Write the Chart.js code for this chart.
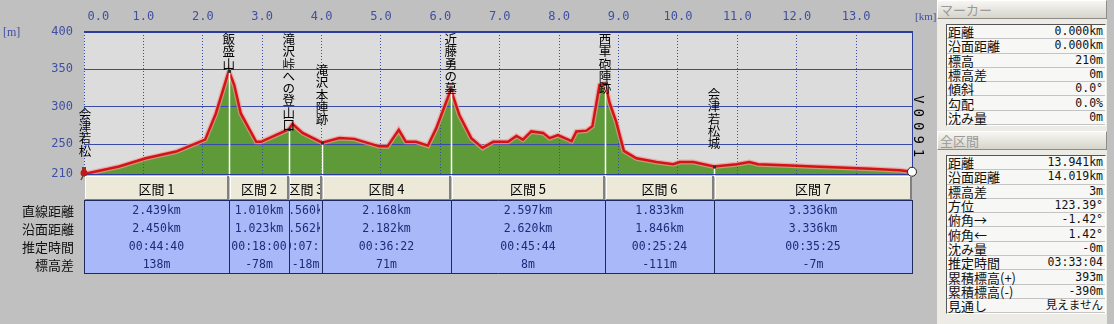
<!DOCTYPE html>
<html>
<head>
<meta charset="utf-8">
<script src="https://cdn.jsdelivr.net/npm/chart.js@4"></script>
<style>
body { margin: 0; background: #c0c0c0; width: 1114px; height: 324px; overflow: hidden; position: relative; font-family: "Noto Sans CJK JP", sans-serif; }
#plotBg { position: absolute; background: #dcdcdc; }
#profile { position: absolute; left: 0; top: 0; }
#panel { position: absolute; left: 937px; top: 0; width: 170px; height: 324px; background: #ecebe6; }
.hdr { position: absolute; left: 0; width: 166px; height: 17px; background: linear-gradient(#f7f6f2, #d6d4cb); border: 1px solid; border-color: #fff #8e8c84 #8e8c84 #fff; color: #9a9a9a; font-size: 13px; line-height: 17px; padding-left: 2px; }
.box { position: absolute; left: 9px; width: 158px; border: 1px solid; border-color: #555 #fff #fff #555; background: #f7f7f5; }
.row { height: 13.3px; border-bottom: 1px solid #c4c4c4; display: flex; justify-content: space-between; align-items: center; font-size: 13px; line-height: 13px; padding: 0 2px 0 1px; color: #111; }
.val { font-family: "DejaVu Sans Mono", "Noto Sans CJK JP", monospace; font-size: 11.5px; }
</style>
</head>
<body>
<div id="plotBg"></div>
<canvas id="profile" width="937" height="324"></canvas>
<div id="panel"></div>
<script>
// profile: distance along route (km) and elevation (m)
const distKm = [0, 0.59, 1.04, 1.55, 2.04, 2.22, 2.439, 2.53, 2.64, 2.90,
    2.98, 3.23, 3.449, 3.51, 3.68, 4.009, 4.30, 4.55, 4.97, 5.11,
    5.30, 5.42, 5.59, 5.79, 5.93, 6.177, 6.32, 6.52, 6.71, 6.89,
    7.14, 7.28, 7.39, 7.53, 7.73, 7.84, 7.98, 8.21, 8.29, 8.46,
    8.56, 8.68, 8.774, 8.85, 8.96, 9.09, 9.30, 9.64, 9.92, 10.03,
    10.26, 10.607, 10.99, 11.20, 11.35, 12.00, 12.28, 12.62, 13.24, 13.74,
    13.941];
const elevM = [210, 220, 231, 240, 256, 291, 348, 329, 291, 253,
    253, 262, 270, 277, 265, 252, 258, 257, 247, 247,
    269, 253, 253, 248, 271, 323, 289, 258, 245, 253,
    253, 261, 256, 267, 265, 258, 262, 254, 267, 268,
    274, 329, 331, 305, 280, 241, 231, 226, 223, 226,
    226, 220, 223, 226, 223, 221, 220, 219, 217, 215,
    213];

const markerNames = ['会津若松', '飯盛山', '滝沢峠への登山口', '滝沢本陣跡', '近藤勇の墓', '西軍砲陣跡', '会津若松城', 'V0091'];
const markerKm = [0, 2.439, 3.449, 4.009, 6.177, 8.774, 10.607, 13.941];
const markerElev = [210, 348, 270, 252, 323, 331, 220, 213];

const sectionKm = [0, 2.439, 3.449, 4.009, 6.177, 8.774, 10.607, 13.941];
const sectionNames = ['区間 1', '区間 2', '区間 3', '区間 4', '区間 5', '区間 6', '区間 7'];
const rowLabels = ['直線距離', '沿面距離', '推定時間', '標高差'];
const straightDist = ['2.439km', '1.010km', '0.560km', '2.168km', '2.597km', '1.833km', '3.336km'];
const surfaceDist = ['2.450km', '1.023km', '0.562km', '2.182km', '2.620km', '1.846km', '3.336km'];
const estTime = ['00:44:40', '00:18:00', '00:07:29', '00:36:22', '00:45:44', '00:25:24', '00:35:25'];
const elevDiff = ['138m', '-78m', '-18m', '71m', '8m', '-111m', '-7m'];

const xTicks = [0, 1, 2, 3, 4, 5, 6, 7, 8, 9, 10, 11, 12, 13];
const yTicks = [210, 250, 300, 350, 400];

const markerInfoLabels = ['距離', '沿面距離', '標高', '標高差', '傾斜', '勾配', '沈み量'];
const markerInfoValues = ['0.000km', '0.000km', '210m', '0m', '0.0°', '0.0%', '0m'];
const totalLabels = ['距離', '沿面距離', '標高差', '方位', '俯角→', '俯角←', '沈み量', '推定時間', '累積標高(+)', '累積標高(-)', '見通し'];
const totalValues = ['13.941km', '14.019km', '3m', '123.39°', '-1.42°', '1.42°', '-0m', '03:33:04', '393m', '-390m', '見えません'];

const axisBlue = '#3f4fa3';
const gridBlue = '#3a4aa8';
const jpFont = '"Noto Sans CJK JP", sans-serif';
const monoFont = '"DejaVu Sans Mono", "Noto Sans CJK JP", monospace';

const points = distKm.map((d, i) => ({ x: d, y: elevM[i] }));

const profileDecor = {
    id: 'profileDecor',
    afterLayout(chart) {
        const a = chart.chartArea;
        const bg = document.getElementById('plotBg');
        bg.style.left = a.left + 'px';
        bg.style.top = a.top + 'px';
        bg.style.width = (a.right - a.left) + 'px';
        bg.style.height = (a.bottom - a.top) + 'px';
    },
    afterDatasetsDraw(chart) {
        const { ctx, chartArea: a, scales: { x, y } } = chart;
        ctx.save();

        // white drop lines at the markers
        ctx.strokeStyle = '#ffffff';
        ctx.lineWidth = 1.5;
        markerKm.forEach((km, i) => {
            if (i === 0 || i === markerKm.length - 1) return;
            const px = Math.round(x.getPixelForValue(km)) + 0.5;
            const py = y.getPixelForValue(markerElev[i]);
            ctx.beginPath();
            ctx.moveTo(px, py + 2);
            ctx.lineTo(px, a.bottom + 3);
            ctx.stroke();
            ctx.fillStyle = '#303030';
            ctx.fillRect(px - 1.5, py - 1, 3, 3);
        });

        // vertical labels
        const cell = 12.3;
        ctx.fillStyle = '#000000';
        ctx.textAlign = 'center';
        ctx.textBaseline = 'middle';
        markerNames.forEach((name, i) => {
            const chars = Array.from(name);
            const px = x.getPixelForValue(markerKm[i]);
            const py = y.getPixelForValue(markerElev[i]);
            const top = Math.max(a.top + 1, py - 17 - chars.length * cell);
            const latin = /^[A-Za-z0-9]+$/.test(name);
            const cx = i === markerNames.length - 1 ? px + 6 : (i === 0 ? px + 1 : px);
            chars.forEach((ch, k) => {
                const cy = top + k * (latin ? 13.4 : cell) + cell / 2;
                if (latin) {
                    ctx.save();
                    ctx.translate(cx, cy);
                    ctx.rotate(Math.PI / 2);
                    ctx.font = '14px ' + monoFont;
                    ctx.fillText(ch, 0, 0);
                    ctx.restore();
                } else {
                    ctx.font = '12.5px ' + jpFont;
                    ctx.fillText(ch, cx, cy);
                }
            });
        });

        // plot frame
        ctx.strokeStyle = '#2c3c9c';
        ctx.lineWidth = 1;
        ctx.beginPath();
        ctx.moveTo(a.right + 0.5, a.top);
        ctx.lineTo(a.right + 0.5, a.bottom);
        ctx.moveTo(a.left, a.bottom + 0.5);
        ctx.lineTo(a.right, a.bottom + 0.5);
        ctx.stroke();
        ctx.lineWidth = 2;
        ctx.beginPath();
        ctx.moveTo(a.left, a.top);
        ctx.lineTo(a.right + 1, a.top);
        ctx.stroke();

        // start hiker and end point
        const sx = x.getPixelForValue(distKm[0]);
        const sy = y.getPixelForValue(elevM[0]);
        ctx.fillStyle = '#8a3a2a';
        ctx.fillRect(sx - 2, sy - 7, 4, 4);
        ctx.fillStyle = '#c01818';
        ctx.beginPath();
        ctx.arc(sx, sy - 1, 3.5, 0, Math.PI * 2);
        ctx.fill();
        ctx.strokeStyle = '#5a4a30';
        ctx.lineWidth = 1.5;
        ctx.beginPath();
        ctx.moveTo(sx - 1, sy + 2);
        ctx.lineTo(sx - 3, sy + 6);
        ctx.moveTo(sx + 1, sy + 2);
        ctx.lineTo(sx + 3, sy + 6);
        ctx.stroke();

        const ex = x.getPixelForValue(distKm[distKm.length - 1]);
        const ey = y.getPixelForValue(elevM[elevM.length - 1]);
        ctx.fillStyle = '#ffffff';
        ctx.strokeStyle = '#202020';
        ctx.lineWidth = 1;
        ctx.beginPath();
        ctx.arc(ex, ey, 4.5, 0, Math.PI * 2);
        ctx.fill();
        ctx.stroke();

        ctx.restore();
    },
    afterDraw(chart) {
        const { ctx, chartArea: a, scales: { x } } = chart;
        ctx.save();

        // unit labels
        ctx.fillStyle = axisBlue;
        ctx.font = '12px "Liberation Serif", serif';
        ctx.textBaseline = 'middle';
        ctx.textAlign = 'left';
        ctx.fillText('[m]', 3, 33);
        ctx.font = '11px "Liberation Serif", serif';
        ctx.fillText('[km]', a.right + 3, 17);

        // section table
        const hTop = a.bottom + 2;
        const hH = 24;
        const dTop = hTop + hH;
        const dH = 73;

        ctx.fillStyle = '#a9b8f8';
        ctx.fillRect(a.left, dTop, a.right - a.left, dH);

        const rows = [straightDist, surfaceDist, estTime, elevDiff];
        for (let i = 0; i < sectionNames.length; i++) {
            const x0 = Math.round(x.getPixelForValue(sectionKm[i]));
            const x1 = Math.round(x.getPixelForValue(sectionKm[i + 1]));

            // header cell
            ctx.fillStyle = '#ece9d8';
            ctx.fillRect(x0 + 1, hTop, x1 - x0 - 1, hH);
            ctx.fillStyle = '#ffffff';
            ctx.fillRect(x0 + 1, hTop, x1 - x0 - 2, 1);
            ctx.fillRect(x0 + 1, hTop, 1, hH);
            ctx.fillStyle = '#808080';
            ctx.fillRect(x1 - 2, hTop, 2, hH);
            ctx.fillRect(x0 + 1, hTop + hH - 1, x1 - x0 - 1, 1);

            ctx.save();
            ctx.beginPath();
            ctx.rect(x0 + 1, hTop, x1 - x0 - 3, hH + dH);
            ctx.clip();
            const cx = (x0 + x1) / 2;
            ctx.textAlign = 'center';
            ctx.textBaseline = 'middle';
            ctx.fillStyle = '#000000';
            ctx.font = '13px ' + jpFont;
            ctx.fillText(sectionNames[i], cx, hTop + hH / 2 + 1);
            ctx.fillStyle = '#1e2a78';
            ctx.font = '11.5px ' + monoFont;
            rows.forEach((vals, r) => {
                ctx.fillText(vals[i], cx, dTop + 11 + r * 17.9);
            });
            ctx.restore();
        }

        ctx.strokeStyle = '#1f2a5c';
        ctx.lineWidth = 1;
        ctx.beginPath();
        sectionKm.forEach(km => {
            const px = Math.round(x.getPixelForValue(km)) + 0.5;
            ctx.moveTo(px, dTop);
            ctx.lineTo(px, dTop + dH);
        });
        ctx.moveTo(a.left, dTop + 0.5);
        ctx.lineTo(a.right + 1, dTop + 0.5);
        ctx.moveTo(a.left, dTop + dH + 0.5);
        ctx.lineTo(a.right + 1, dTop + dH + 0.5);
        ctx.stroke();

        // row labels
        ctx.fillStyle = '#111111';
        ctx.font = '13px ' + jpFont;
        ctx.textAlign = 'right';
        ctx.textBaseline = 'middle';
        rowLabels.forEach((lab, r) => {
            ctx.fillText(lab, a.left - 10, dTop + 11 + r * 17.9);
        });

        ctx.restore();
    }
};

const ctx = document.getElementById('profile').getContext('2d');
const profileChart = new Chart(ctx, {
    type: 'line',
    data: {
        datasets: [{
            data: points,
            borderColor: '#d41414',
            borderWidth: 2.5,
            pointRadius: 0,
            tension: 0,
            fill: false
        }, {
            data: points,
            borderColor: 'rgba(240,150,150,0.7)',
            borderWidth: 5,
            pointRadius: 0,
            tension: 0,
            fill: 'start',
            backgroundColor: '#5e9a38'
        }]
    },
    options: {
        responsive: false,
        animation: false,
        layout: {
            padding: { left: 0, top: 0, right: 25, bottom: 150 }
        },
        plugins: {
            legend: { display: false },
            tooltip: { enabled: false },
            filler: { drawTime: 'beforeDraw' }
        },
        scales: {
            x: {
                type: 'linear',
                position: 'top',
                min: 0,
                max: distKm[distKm.length - 1],
                afterBuildTicks: scale => {
                    scale.ticks = xTicks.map(v => ({ value: v }));
                },
                afterFit: scale => {
                    scale.height = 32;
                },
                ticks: {
                    color: axisBlue,
                    font: { family: monoFont, size: 12 },
                    padding: 8,
                    maxRotation: 0,
                    autoSkip: false,
                    callback: v => v === 0 ? '    0.0' : v.toFixed(1)
                },
                grid: { color: gridBlue, drawTicks: false, lineWidth: 1 },
                border: { display: false, dash: [1, 2] }
            },
            y: {
                min: 210,
                max: 400,
                afterBuildTicks: scale => {
                    scale.ticks = yTicks.map(v => ({ value: v }));
                },
                afterFit: scale => {
                    scale.width = 84;
                },
                ticks: {
                    color: axisBlue,
                    font: { family: monoFont, size: 12 },
                    padding: 11
                },
                grid: { color: gridBlue, drawTicks: false, lineWidth: 1 },
                border: { display: false }
            }
        }
    },
    plugins: [profileDecor]
});

// right-hand info panel
const panel = document.getElementById('panel');

function addHeader(top, text) {
    const h = document.createElement('div');
    h.className = 'hdr';
    h.style.top = top + 'px';
    h.textContent = text;
    panel.appendChild(h);
}

function addBox(top, labels, values) {
    const box = document.createElement('div');
    box.className = 'box';
    box.style.top = top + 'px';
    labels.forEach((lab, i) => {
        const row = document.createElement('div');
        row.className = 'row';
        const l = document.createElement('span');
        l.textContent = lab;
        const v = document.createElement('span');
        v.className = 'val';
        v.textContent = values[i];
        row.appendChild(l);
        row.appendChild(v);
        box.appendChild(row);
    });
    panel.appendChild(box);
}

addHeader(0, 'マーカー');
addBox(24, markerInfoLabels, markerInfoValues);
addHeader(131, '全区間');
addBox(155, totalLabels, totalValues);
</script>
</body>
</html>
